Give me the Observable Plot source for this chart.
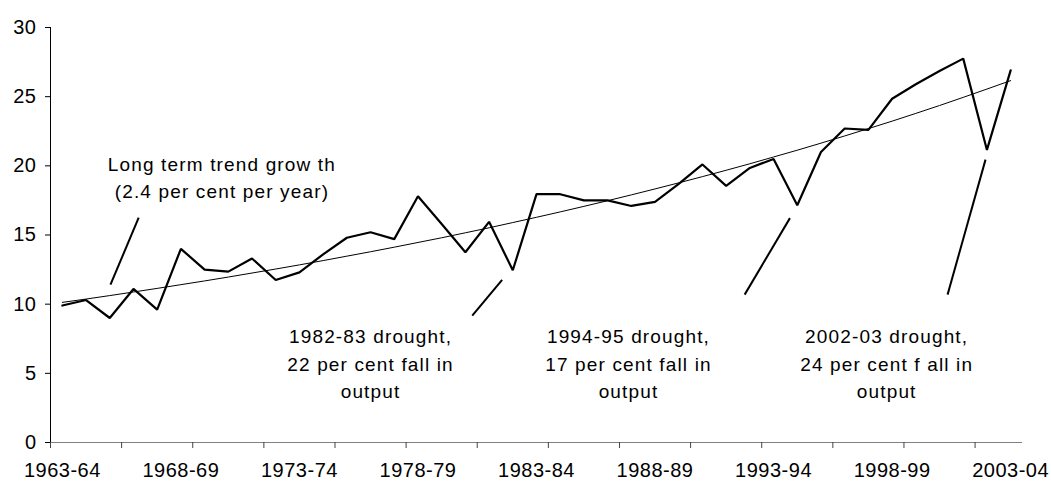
<!DOCTYPE html>
<html>
<head>
<meta charset="utf-8">
<script src="https://cdn.jsdelivr.net/npm/d3@7"></script>
<script src="https://cdn.jsdelivr.net/npm/@observablehq/plot@0.6"></script>
<style>
  html, body { margin: 0; padding: 0; background: #fff; }
  g[aria-label="text"] text { letter-spacing: 1.15px; }
  g[aria-label="x-axis tick label"] text, g[aria-label="y-axis tick label"] text { letter-spacing: 0.5px; }
</style>
</head>
<body>
<div id="chart"></div>
<script>
// Financial years (categories)
const years = [
  "1963-64","1964-65","1965-66","1966-67","1967-68","1968-69","1969-70","1970-71",
  "1971-72","1972-73","1973-74","1974-75","1975-76","1976-77","1977-78","1978-79",
  "1979-80","1980-81","1981-82","1982-83","1983-84","1984-85","1985-86","1986-87",
  "1987-88","1988-89","1989-90","1990-91","1991-92","1992-93","1993-94","1994-95",
  "1995-96","1996-97","1997-98","1998-99","1999-00","2000-01","2001-02","2002-03","2003-04"
];
const output = [
  9.9, 10.3, 9.0, 11.1, 9.6, 14.0, 12.5, 12.35, 13.3, 11.75,
  12.3, 13.6, 14.8, 15.2, 14.7, 17.8, 15.8, 13.75, 15.95, 12.45,
  17.95, 17.95, 17.5, 17.5, 17.1, 17.4, 18.7, 20.1, 18.55, 19.85,
  20.5, 17.15, 21.0, 22.7, 22.6, 24.85, 25.9, 26.85, 27.75, 21.15, 26.9
];
// Long term trend
const trend = [
  10.13, 10.37, 10.62, 10.88, 11.14, 11.41, 11.68, 11.96, 12.25, 12.54,
  12.84, 13.15, 13.47, 13.79, 14.12, 14.46, 14.80, 15.16, 15.52, 15.90,
  16.28, 16.67, 17.07, 17.48, 17.90, 18.33, 18.77, 19.22, 19.68, 20.15,
  20.64, 21.13, 21.64, 22.16, 22.69, 23.23, 23.79, 24.36, 24.95, 25.55, 26.16
];
const yTicks = [0, 5, 10, 15, 20, 25, 30];
const labelIdx = [0, 5, 10, 15, 20, 25, 30, 35, 40];

// Annotations (in data units: category index, value)
const noteText = [
  "Long term trend grow th\n(2.4 per cent per year)",
  "1982-83 drought,\n22 per cent fall in\noutput",
  "1994-95 drought,\n17 per cent fall in\noutput",
  "2002-03 drought,\n24 per cent f all in\noutput"
];
const noteX = [6.73, 13.0, 23.88, 34.77];
const noteY = [19.28, 5.83, 5.83, 5.83];
const leaderX1 = [2.03, 17.29, 28.78, 37.34];
const leaderY1 = [11.41, 9.17, 10.69, 10.69];
const leaderX2 = [3.22, 18.55, 30.69, 38.94];
const leaderY2 = [16.25, 11.75, 16.22, 20.45];

const idx = years.map((_, i) => i);
const notes = noteText.map((t, i) => ({t, x: noteX[i], y: noteY[i]}));
const leaders = leaderX1.map((_, i) => ({x1: leaderX1[i], y1: leaderY1[i], x2: leaderX2[i], y2: leaderY2[i]}));
const tickPos = d3.range(-0.5, years.length - 0.5, 3);

const chart = Plot.plot({
  width: 1051,
  height: 482,
  marginLeft: 50,
  marginRight: 29,
  marginTop: 27,
  marginBottom: 40,
  x: {domain: [-0.5, years.length - 0.5], label: null},
  y: {domain: [0, 30], label: null},
  style: {fontFamily: "'Liberation Sans', Arial, sans-serif", background: "white", color: "black"},
  marks: [
    Plot.ruleY([0], {x1: -0.5, x2: years.length - 0.5, stroke: "#808080", strokeWidth: 1.2}),
    Plot.ruleX([-0.5], {y1: 0, y2: 30, stroke: "#000", strokeWidth: 1}),
    Plot.axisX({ticks: tickPos, tickSize: 6, tickFormat: () => "", stroke: "#444"}),
    Plot.axisX({ticks: labelIdx, tickSize: 0, tickPadding: 20, tickFormat: i => years[i], fontSize: 20, fill: "#000"}),
    Plot.axisY({ticks: yTicks, tickSize: 5, tickPadding: 9, fontSize: 20, fill: "#000", stroke: "#000"}),
    Plot.line(idx, {x: i => i, y: i => trend[i], stroke: "#000", strokeWidth: 1}),
    Plot.line(idx, {x: i => i, y: i => output[i], stroke: "#000", strokeWidth: 2.2, strokeLinejoin: "miter"}),
    Plot.link(leaders, {x1: "x1", y1: "y1", x2: "x2", y2: "y2", stroke: "#000", strokeWidth: 2}),
    Plot.text(notes, {x: "x", y: "y", text: "t", fontSize: 19, lineHeight: 1.45, lineAnchor: "middle", fill: "#000"})
  ]
});
document.getElementById("chart").appendChild(chart);
</script>
</body>
</html>
